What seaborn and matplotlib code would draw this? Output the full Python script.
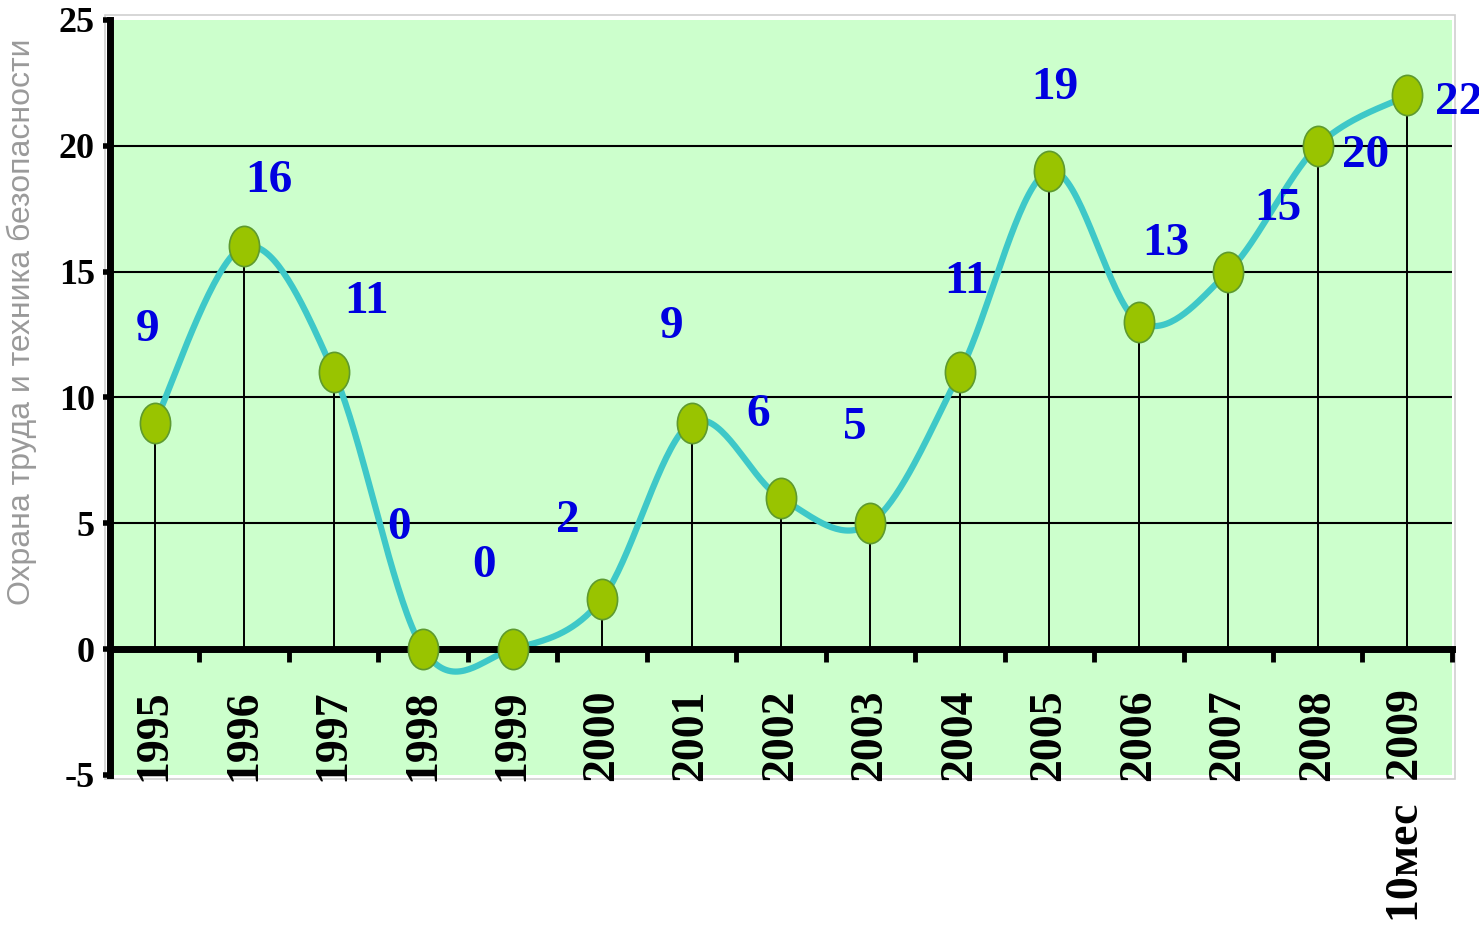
import numpy as np
import matplotlib
matplotlib.use("Agg")
import matplotlib.pyplot as plt
import seaborn as sns
import pandas as pd
from matplotlib.patches import Rectangle
from matplotlib.path import Path

# ---- data ----
years = ["1995", "1996", "1997", "1998", "1999", "2000", "2001", "2002",
         "2003", "2004", "2005", "2006", "2007", "2008", "10мес  2009"]
values = [9, 16, 11, 0, 0, 2, 9, 6, 5, 11, 19, 13, 15, 20, 22]
y_ticks = [-5, 0, 5, 10, 15, 20, 25]
y_title = "Охрана труда и техника безопасности"

# value-label offsets (layout, in data units)
label_dx = [-0.08, 0.28, 0.37, -0.27, -0.32, -0.38, -0.22, -0.26, -0.17,
            0.08, 0.06, 0.30, 0.55, 0.54, 0.57]
label_dy = [3.7, 2.6, 2.8, 4.8, 3.3, 3.1, 3.8, 3.3, 3.8,
            3.6, 3.3, 3.1, 2.5, -0.4, -0.3]


def catmull_rom(xs, ys, n=40):
    xs = np.asarray(xs, float)
    ys = np.asarray(ys, float)
    px = np.concatenate([[xs[0]], xs, [xs[-1]]])
    py = np.concatenate([[ys[0]], ys, [ys[-1]]])
    ox, oy = [], []
    t = np.linspace(0, 1, n)
    for i in range(1, len(px) - 2):
        for arr, out in ((px, ox), (py, oy)):
            p0, p1, p2, p3 = arr[i - 1], arr[i], arr[i + 1], arr[i + 2]
            seg = 0.5 * (2 * p1 + (-p0 + p2) * t
                         + (2 * p0 - 5 * p1 + 4 * p2 - p3) * t ** 2
                         + (-p0 + 3 * p1 - 3 * p2 + p3) * t ** 3)
            out.extend(seg if i == 1 else seg[1:])
    return np.array(ox), np.array(oy)


sns.set_style("white")
plt.rcParams["font.family"] = ["Liberation Serif", "DejaVu Serif"]
plt.rcParams["text.color"] = "black"
plt.rcParams["xtick.color"] = "black"
plt.rcParams["ytick.color"] = "black"
plt.rcParams["xtick.labelcolor"] = "black"
plt.rcParams["ytick.labelcolor"] = "black"

fig = plt.figure(figsize=(14.79, 9.52), dpi=100)
ax = fig.add_axes([0.0744, 0.186, 0.9073, 0.793])
ax.set_facecolor("#CCFFCC")

x = np.arange(len(values))
df = pd.DataFrame({"x": x, "value": values})

# grid lines
for yt in y_ticks:
    if 0 < yt < 25:
        ax.axhline(yt, color="black", lw=1.5, zorder=1)

# drop lines
ax.vlines(df["x"], 0, df["value"], color="black", lw=1.4, zorder=2)

# smooth curve
sx, sy = catmull_rom(df["x"], df["value"])
sm = pd.DataFrame({"x": sx, "y": sy})
sns.lineplot(data=sm, x="x", y="y", sort=False, estimator=None,
             color="#3EC8C8", lw=4.5, ax=ax, zorder=3)

# markers (slightly tall ellipses)
circ = Path.unit_circle()
ell = Path(circ.vertices * np.array([0.75, 1.0]), circ.codes)
sns.scatterplot(data=df, x="x", y="value", marker=ell, s=840,
                color="#99C400", edgecolor="#5E9A2E", linewidth=1.2,
                ax=ax, zorder=4)

# value labels
for i, v in enumerate(values):
    ax.text(i + label_dx[i], v + label_dy[i], str(v), ha="center", va="center",
            fontsize=34, fontweight="bold", color="#0000E0", clip_on=False,
            zorder=5)

ax.set_xlim(-0.5, len(values) - 0.5)
ax.set_ylim(-5, 25)

# spines
for s in ("top", "right"):
    ax.spines[s].set_visible(False)
ax.spines["bottom"].set_position(("data", 0))
ax.spines["bottom"].set_linewidth(5)
ax.spines["left"].set_linewidth(5)
ax.spines["bottom"].set_color("black")
ax.spines["left"].set_color("black")
ax.spines["bottom"].set_zorder(3.5)

# x ticks
ax.set_xticks(x)
ax.set_xticklabels(years, rotation=90, fontsize=33, fontweight="bold")
ax.set_xticks(np.arange(0.5, len(values), 1), minor=True)
ax.tick_params(axis="x", which="major", length=0, pad=29)
ax.tick_params(axis="x", which="minor", direction="out", length=9, width=3.5,
               color="black", bottom=True)
for lab in ax.get_xticklabels():
    lab.set_verticalalignment("top")

# y ticks
ax.set_yticks(y_ticks)
ax.set_yticklabels([str(v) for v in y_ticks], fontsize=26, fontweight="bold")
ax.tick_params(axis="y", direction="out", length=5, width=4, color="black",
               left=True, pad=6)
ax.set_xlabel("")
ax.set_ylabel("")

# faint frame around plot area
ax.add_patch(Rectangle((-0.004, -0.005), 1.006, 1.012, transform=ax.transAxes,
                       fill=False, edgecolor="#cfcfcf", lw=1.2, clip_on=False,
                       zorder=0))

fig.text(22 / 1479, 1 - 322 / 952, y_title, rotation=90, ha="center",
         va="center", fontsize=23, color="#9a9a9a",
         family=["Liberation Sans", "DejaVu Sans"])

fig.savefig("out.png", dpi=100)
